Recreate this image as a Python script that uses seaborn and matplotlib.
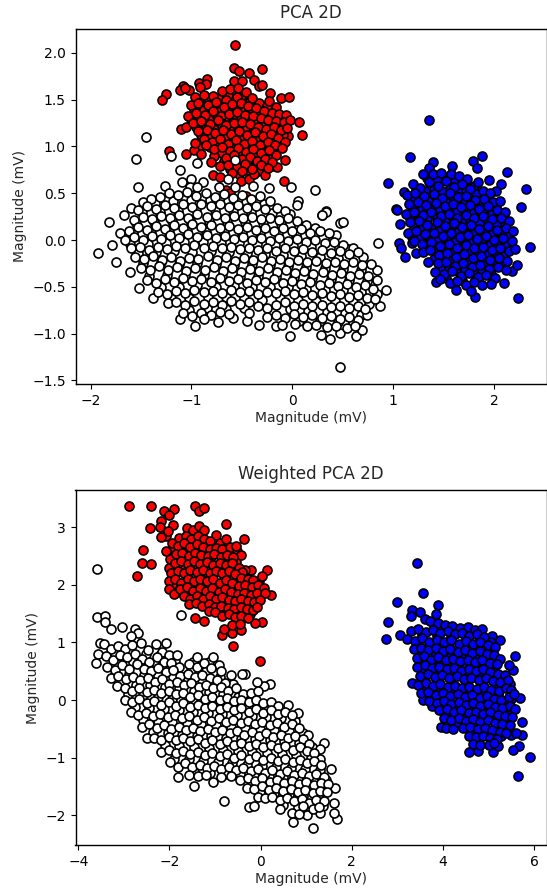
import seaborn as sns
import matplotlib.pyplot as plt
import pandas as pd

# points, one list per cluster
pcaRed = [(-0.57,2.08),(-0.58,1.84),(-0.53,1.81),(-0.30,1.83),(-0.43,1.78),(-0.38,1.71),(-0.33,1.65),(-0.30,1.66),(-0.58,1.70),(-0.50,1.70),
(-0.85,1.72),(-0.92,1.68),(-0.86,1.67),(-1.08,1.65),(-1.11,1.60),(-1.02,1.60),(-1.06,1.62),(-1.25,1.56),(-1.29,1.50),(-0.91,1.63),
(-0.11,1.52),(-0.03,1.53),(-0.22,1.57),(-0.23,1.49),(0.07,1.26),(0.10,1.12),(-0.04,1.11),(-0.09,1.12),(-1.10,1.19),(-1.05,1.21),
(-1.22,0.95),(-1.05,0.92),(-0.97,0.96),(-0.90,0.92),(-0.78,0.90),(-0.81,0.83),(-0.72,0.79),(-0.79,0.69),(-0.72,0.67),(-0.51,0.63),
(-0.43,0.65),(-0.38,0.70),(-0.27,0.69),(-0.08,0.63),(-0.66,0.53),(-0.62,0.50),(-0.46,0.47),(-0.07,0.85),(-0.16,0.91),(-0.15,0.78),
(-0.96,1.53),(-0.88,1.55),(-0.79,1.54),(-0.70,1.59),(-0.62,1.61),(-0.54,1.62),(-0.46,1.58),(-0.40,1.52),(-0.55,1.53),(-0.66,1.50),
(-1.00,1.44),(-0.93,1.46),(-0.84,1.44),(-0.76,1.47),(-0.68,1.42),(-0.60,1.45),(-0.51,1.46),(-0.44,1.43),(-0.36,1.41),(-0.28,1.38),
(-0.20,1.36),(-0.13,1.35),(-0.06,1.34),(-1.03,1.33),(-0.95,1.36),(-0.87,1.34),(-0.79,1.38),(-0.71,1.33),(-0.63,1.35),(-0.55,1.37),
(-0.47,1.34),(-0.39,1.33),(-0.31,1.30),(-0.24,1.28),(-0.16,1.27),(-0.08,1.26),(-0.02,1.28),(-0.98,1.25),(-0.90,1.27),(-0.82,1.24),
(-0.74,1.28),(-0.66,1.23),(-0.58,1.25),(-0.50,1.26),(-0.42,1.24),(-0.34,1.21),(-0.26,1.19),(-0.18,1.21),(-0.11,1.18),(-0.05,1.20),
(-0.93,1.16),(-0.85,1.18),(-0.77,1.14),(-0.69,1.17),(-0.61,1.13),(-0.53,1.16),(-0.45,1.12),(-0.37,1.15),(-0.29,1.11),(-0.21,1.13),
(-0.14,1.09),(-0.07,1.05),(-0.88,1.08),(-0.80,1.05),(-0.72,1.08),(-0.64,1.03),(-0.56,1.07),(-0.48,1.03),(-0.40,1.06),(-0.32,1.02),
(-0.24,1.05),(-0.17,1.01),(-0.10,0.98),(-0.96,1.04),(-0.86,1.02),(-0.78,0.97),(-0.70,0.99),(-0.62,0.95),(-0.54,0.98),(-0.46,0.94),
(-0.39,0.97),(-0.31,0.93),(-0.23,0.96),(-0.66,0.88),(-0.58,0.91),(-0.50,0.87),(-0.42,0.89),(-0.35,0.84),(-0.27,0.87),(-0.20,0.83),
(-0.64,0.80),(-0.55,0.78),(-0.47,0.81),(-0.40,0.76),(-0.31,0.80),(-0.24,0.77),(-0.60,0.72),(-0.50,0.74)]

pcaRedUnder = [(-0.92,1.49),(-0.83,1.50),(-0.74,1.52),(-0.64,1.55),(-0.50,1.55),(-0.42,1.48),(-0.33,1.46),(-0.25,1.43),(-0.16,1.42),(-0.97,1.40),(-0.88,1.39),(-0.80,1.42),(-0.72,1.38),(-0.64,1.40),(-0.56,1.41),(-0.47,1.39),(-0.40,1.37),(-0.32,1.35),(-0.24,1.33),(-0.12,1.31),
(-1.00,1.29),(-0.92,1.31),(-0.83,1.29),(-0.75,1.32),(-0.67,1.28),(-0.59,1.30),(-0.51,1.31),(-0.43,1.29),(-0.35,1.26),(-0.27,1.24),(-0.20,1.24),(-0.12,1.22),(-0.95,1.21),(-0.86,1.22),(-0.78,1.19),(-0.70,1.22),(-0.62,1.19),(-0.54,1.21),(-0.46,1.19),(-0.38,1.18),(-0.30,1.16),(-0.22,1.17),(-0.15,1.14),(-0.08,1.15),
(-0.90,1.12),(-0.81,1.11),(-0.73,1.11),(-0.65,1.10),(-0.57,1.11),(-0.49,1.08),(-0.41,1.10),(-0.33,1.07),(-0.25,1.09),(-0.18,1.06),(-0.11,1.03),(-0.92,0.99),(-0.82,0.99),(-0.74,1.03),(-0.66,0.99),(-0.58,1.02),(-0.50,0.99),(-0.43,1.01),(-0.35,0.98),(-0.27,1.00),(-0.19,0.97),
(-0.70,0.93),(-0.62,0.90),(-0.54,0.93),(-0.46,0.90),(-0.38,0.92),(-0.30,0.88),(-0.23,0.90),(-0.68,0.84),(-0.60,0.85),(-0.52,0.82),(-0.44,0.85),(-0.36,0.79),(-0.28,0.83),(-0.20,0.79),(-0.62,0.76),(-0.53,0.70),(-0.44,0.75),(-0.34,0.74)]

pcaBlue = [(1.36,1.28),(1.17,0.89),(1.88,0.90),(1.39,0.83),(1.79,0.84),(1.83,0.77),(2.13,0.73),(0.95,0.61),(2.32,0.54),(2.27,0.35),
(1.03,0.33),(1.11,0.51),(2.07,0.60),(1.58,0.79),(1.36,0.77),(1.04,0.32),(1.07,0.17),(1.06,-0.03),(1.08,-0.09),(1.12,-0.18),
(1.19,-0.03),(1.23,-0.14),(2.36,-0.07),(2.24,-0.62),(2.10,-0.46),(1.81,-0.61),(1.42,-0.45),(2.18,-0.33),(2.23,-0.27),
(1.30,0.70),(1.39,0.71),(1.47,0.72),(1.57,0.70),(1.65,0.68),(1.73,0.65),(1.84,0.62),(1.95,0.64),(2.02,0.52),
(1.20,0.60),(1.27,0.56),(1.36,0.62),(1.44,0.58),(1.52,0.63),(1.60,0.57),(1.68,0.60),(1.76,0.54),(1.89,0.52),(1.96,0.50),
(1.14,0.48),(1.22,0.50),(1.31,0.47),(1.40,0.49),(1.48,0.45),(1.56,0.50),(1.64,0.46),(1.72,0.47),(1.81,0.43),(1.90,0.44),(1.99,0.41),(2.06,0.42),
(1.16,0.39),(1.25,0.41),(1.33,0.37),(1.42,0.40),(1.51,0.36),(1.59,0.39),(1.67,0.35),(1.76,0.37),(1.85,0.33),(1.94,0.36),(2.03,0.32),(2.11,0.30),
(1.13,0.28),(1.21,0.30),(1.30,0.27),(1.38,0.30),(1.47,0.26),(1.55,0.28),(1.63,0.24),(1.72,0.27),(1.80,0.23),(1.89,0.26),(1.98,0.22),(2.07,0.23),(2.15,0.20),
(1.17,0.19),(1.26,0.20),(1.34,0.16),(1.43,0.19),(1.51,0.15),(1.60,0.18),(1.68,0.14),(1.77,0.16),(1.85,0.12),(1.94,0.15),(2.03,0.11),(2.12,0.13),(2.19,0.10),
(1.15,0.08),(1.23,0.10),(1.32,0.06),(1.40,0.08),(1.49,0.04),(1.57,0.07),(1.66,0.03),(1.74,0.05),(1.83,0.01),(1.92,0.04),(2.00,0.00),(2.09,0.02),(2.18,-0.01),
(1.21,-0.01),(1.29,-0.04),(1.38,-0.02),(1.46,-0.06),(1.55,-0.04),(1.63,-0.08),(1.72,-0.05),(1.80,-0.09),(1.89,-0.07),(1.98,-0.11),(2.06,-0.09),(2.15,-0.12),(2.21,-0.10),
(1.30,-0.13),(1.37,-0.11),(1.45,-0.16),(1.53,-0.14),(1.62,-0.18),(1.70,-0.15),(1.79,-0.19),(1.87,-0.17),(1.96,-0.21),(2.05,-0.19),(2.13,-0.22),
(1.35,-0.23),(1.44,-0.25),(1.52,-0.23),(1.61,-0.28),(1.69,-0.25),(1.78,-0.29),(1.86,-0.27),(1.95,-0.31),(2.04,-0.29),(2.12,-0.32),
(1.41,-0.34),(1.50,-0.36),(1.58,-0.33),(1.67,-0.38),(1.75,-0.35),(1.84,-0.39),(1.92,-0.37),(2.01,-0.41),
(1.46,-0.42),(1.56,-0.46),(1.63,-0.44),(1.72,-0.48),(1.80,-0.45),(1.88,-0.48),(1.97,-0.47),(1.62,-0.53),(1.77,-0.54)]

pcaBlueUnder = [(1.34,0.66),(1.43,0.65),(1.53,0.67),(1.61,0.64),(1.70,0.62),(1.80,0.58),(1.23,0.55),(1.32,0.52),(1.40,0.54),(1.48,0.52),(1.56,0.55),(1.64,0.52),(1.72,0.52),(1.82,0.49),(1.93,0.47),(1.18,0.44),(1.27,0.44),(1.35,0.42),(1.44,0.44),(1.52,0.41),(1.60,0.44),(1.68,0.41),(1.77,0.42),(1.86,0.39),(1.95,0.39),(2.02,0.37),
(1.19,0.34),(1.29,0.34),(1.37,0.33),(1.46,0.33),(1.55,0.32),(1.63,0.31),(1.71,0.31),(1.80,0.30),(1.89,0.30),(1.98,0.28),(2.07,0.28),(1.17,0.24),(1.26,0.25),(1.34,0.22),(1.43,0.24),(1.51,0.21),(1.59,0.23),(1.68,0.20),(1.76,0.21),(1.85,0.18),(1.94,0.20),(2.03,0.17),(2.11,0.18),
(1.21,0.14),(1.30,0.13),(1.38,0.13),(1.47,0.11),(1.55,0.12),(1.64,0.09),(1.72,0.10),(1.81,0.07),(1.90,0.09),(1.98,0.06),(2.07,0.07),(2.15,0.05),(1.19,0.03),(1.27,0.03),(1.36,0.03),(1.44,0.01),(1.53,0.01),(1.61,-0.02),(1.70,0.00),(1.78,-0.03),(1.87,-0.02),(1.96,-0.05),(2.04,-0.04),(2.13,-0.06),
(1.34,-0.08),(1.42,-0.10),(1.50,-0.09),(1.59,-0.13),(1.67,-0.10),(1.76,-0.14),(1.84,-0.12),(1.93,-0.16),(2.02,-0.14),(2.10,-0.17),(1.40,-0.20),(1.48,-0.20),(1.57,-0.21),(1.65,-0.22),(1.74,-0.24),(1.82,-0.23),(1.91,-0.26),(2.00,-0.25),(2.08,-0.27),(1.46,-0.30),(1.55,-0.29),(1.63,-0.33),(1.71,-0.31),(1.80,-0.34),(1.88,-0.32),(1.97,-0.36),(1.52,-0.41),(1.68,-0.43),(1.84,-0.44)]

pcaWhite = [(-1.45,1.10),(-1.55,0.87),(-1.20,0.90),(-0.94,0.82),(-1.11,0.75),(-0.57,0.86),(-1.53,0.57),(-1.26,0.58),(-1.09,0.62),(-1.00,0.65),
(-0.89,0.62),(-1.01,0.57),(-0.94,0.57),(-0.73,0.57),(-0.64,0.65),(-0.57,0.57),(-0.39,0.58),(-0.23,0.56),(-0.01,0.57),(0.23,0.53),
(0.06,0.42),(0.05,0.37),(0.33,0.31),(0.29,0.27),(-1.82,0.19),(-1.93,-0.14),(-1.79,-0.05),(-1.75,-0.24),(-1.71,0.08),(-1.67,0.27),
(-1.60,0.34),(-1.52,-0.51),(-1.61,-0.34),(-1.38,-0.62),(-1.23,-0.67),(-1.11,-0.84),(-0.96,-0.92),(-0.74,-0.88),(-0.59,-0.83),(-0.45,-0.87),
(-0.33,-0.91),(-0.16,-0.92),(-0.02,-1.03),(0.28,-1.01),(0.37,-1.06),(0.47,-0.99),(0.63,-1.03),(0.47,-1.36),(0.69,-0.96),(0.74,-0.80),
(0.87,-0.71),(0.93,-0.53),(0.84,-0.32),(0.84,-0.43),(0.78,-0.26),(0.70,-0.18),(0.85,-0.03),(0.60,-0.08),(0.43,0.05),(0.33,0.30),
(0.29,0.27),(0.47,0.18),(0.50,0.19),
(-1.48,0.41),(-1.40,0.44),(-1.31,0.46),(-1.22,0.50),(-1.13,0.48),(-1.04,0.51),(-0.95,0.47),(-0.86,0.50),(-0.77,0.46),(-0.68,0.49),(-0.59,0.45),(-0.50,0.48),(-0.41,0.44),(-0.32,0.47),(-0.22,0.42),
(-1.53,0.32),(-1.44,0.36),(-1.35,0.33),(-1.26,0.37),(-1.17,0.34),(-1.08,0.38),(-0.99,0.35),(-0.90,0.39),(-0.81,0.36),(-0.72,0.38),(-0.63,0.35),(-0.54,0.37),(-0.45,0.34),(-0.36,0.36),(-0.27,0.33),(-0.15,0.34),(-0.07,0.31),
(-1.57,0.21),(-1.48,0.25),(-1.39,0.22),(-1.30,0.26),(-1.21,0.23),(-1.12,0.27),(-1.03,0.24),(-0.94,0.28),(-0.85,0.25),(-0.76,0.27),(-0.67,0.24),(-0.58,0.26),(-0.49,0.23),(-0.40,0.25),(-0.31,0.22),(-0.22,0.24),(-0.13,0.21),(-0.04,0.24),(0.05,0.20),(0.14,0.16),
(-1.62,0.10),(-1.53,0.14),(-1.44,0.11),(-1.35,0.15),(-1.26,0.12),(-1.17,0.16),(-1.08,0.13),(-0.99,0.17),(-0.90,0.14),(-0.81,0.16),(-0.72,0.13),(-0.63,0.15),(-0.54,0.12),(-0.45,0.14),(-0.36,0.11),(-0.27,0.13),(-0.18,0.10),(-0.09,0.13),(0.00,0.10),(0.09,0.12),(0.18,0.08),(0.27,0.10),(0.36,0.07),
(-1.66,0.00),(-1.57,0.03),(-1.48,0.00),(-1.39,0.04),(-1.30,0.01),(-1.21,0.05),(-1.12,0.02),(-1.03,0.06),(-0.94,0.03),(-0.85,0.05),(-0.76,0.02),(-0.67,0.04),(-0.58,0.01),(-0.49,0.03),(-0.40,0.00),(-0.31,0.02),(-0.22,-0.01),(-0.13,0.02),(-0.04,-0.01),(0.05,0.01),(0.14,-0.02),(0.23,0.00),(0.32,-0.03),(0.41,-0.02),(0.50,-0.05),
(-1.60,-0.09),(-1.51,-0.07),(-1.42,-0.11),(-1.33,-0.07),(-1.24,-0.10),(-1.15,-0.06),(-1.06,-0.09),(-0.97,-0.05),(-0.88,-0.08),(-0.79,-0.06),(-0.70,-0.09),(-0.61,-0.07),(-0.52,-0.10),(-0.43,-0.08),(-0.34,-0.11),(-0.25,-0.09),(-0.16,-0.12),(-0.07,-0.09),(0.02,-0.12),(0.11,-0.10),(0.20,-0.13),(0.29,-0.11),(0.38,-0.14),(0.47,-0.12),(0.56,-0.15),(0.65,-0.13),
(-1.56,-0.18),(-1.47,-0.20),(-1.38,-0.17),(-1.29,-0.21),(-1.20,-0.18),(-1.11,-0.22),(-1.02,-0.19),(-0.93,-0.20),(-0.84,-0.17),(-0.75,-0.21),(-0.66,-0.18),(-0.57,-0.22),(-0.48,-0.19),(-0.39,-0.21),(-0.30,-0.18),(-0.21,-0.22),(-0.12,-0.20),(-0.03,-0.23),(0.06,-0.21),(0.15,-0.24),(0.24,-0.22),(0.33,-0.25),(0.42,-0.23),(0.51,-0.26),(0.60,-0.24),(0.69,-0.27),
(-1.50,-0.30),(-1.41,-0.32),(-1.32,-0.28),(-1.23,-0.32),(-1.14,-0.29),(-1.05,-0.33),(-0.96,-0.30),(-0.87,-0.32),(-0.78,-0.29),(-0.69,-0.33),(-0.60,-0.30),(-0.51,-0.34),(-0.42,-0.31),(-0.33,-0.33),(-0.24,-0.30),(-0.15,-0.34),(-0.06,-0.32),(0.03,-0.35),(0.12,-0.33),(0.21,-0.36),(0.30,-0.34),(0.39,-0.37),(0.48,-0.35),(0.57,-0.38),(0.66,-0.36),(0.75,-0.38),
(-1.44,-0.43),(-1.35,-0.46),(-1.26,-0.42),(-1.17,-0.45),(-1.08,-0.41),(-0.99,-0.44),(-0.90,-0.42),(-0.81,-0.45),(-0.72,-0.41),(-0.63,-0.44),(-0.54,-0.42),(-0.45,-0.46),(-0.36,-0.43),(-0.27,-0.45),(-0.18,-0.42),(-0.09,-0.46),(0.00,-0.44),(0.09,-0.47),(0.18,-0.45),(0.27,-0.48),(0.36,-0.46),(0.45,-0.49),(0.54,-0.47),(0.63,-0.50),(0.72,-0.48),(0.80,-0.52),
(-1.33,-0.55),(-1.24,-0.58),(-1.15,-0.54),(-1.06,-0.57),(-0.97,-0.53),(-0.88,-0.56),(-0.79,-0.54),(-0.70,-0.57),(-0.61,-0.53),(-0.52,-0.56),(-0.43,-0.54),(-0.34,-0.58),(-0.25,-0.55),(-0.16,-0.57),(-0.07,-0.54),(0.02,-0.58),(0.11,-0.56),(0.20,-0.59),(0.29,-0.57),(0.38,-0.60),(0.47,-0.58),(0.56,-0.61),(0.65,-0.59),(0.74,-0.62),(0.82,-0.63),
(-1.15,-0.66),(-1.06,-0.69),(-0.97,-0.65),(-0.88,-0.68),(-0.79,-0.66),(-0.70,-0.69),(-0.61,-0.65),(-0.52,-0.68),(-0.43,-0.66),(-0.34,-0.70),(-0.25,-0.73),(-0.16,-0.69),(-0.07,-0.66),(0.02,-0.70),(0.11,-0.68),(0.20,-0.71),(0.29,-0.69),(0.38,-0.72),(0.47,-0.70),(0.56,-0.73),(0.65,-0.71),(0.72,-0.74),
(-1.08,-0.78),(-0.99,-0.81),(-0.90,-0.78),(-0.81,-0.80),(-0.72,-0.77),(-0.63,-0.79),(-0.43,-0.78),(-0.25,-0.82),(-0.16,-0.80),(-0.07,-0.83),(0.02,-0.79),(0.11,-0.82),(0.20,-0.80),(0.29,-0.83),(0.38,-0.81),(0.47,-0.84),(0.56,-0.82),(0.65,-0.85),
(-0.88,-0.84),(-0.10,-0.91),(0.03,-0.90),(0.15,-0.92),(0.24,-0.91),(0.34,-0.93),(0.43,-0.92),(0.54,-0.94),(0.62,-0.92)]

pcaWhiteUnder = [(-1.36,0.40),(-1.18,0.42),(-1.00,0.43),(-0.82,0.43),(-0.64,0.42),(-0.46,0.41),(-0.28,0.39),(-1.49,0.30),(-1.31,0.30),(-1.13,0.31),(-0.95,0.33),(-0.77,0.32),(-0.59,0.31),(-0.41,0.30),(-0.20,0.29),(-0.02,0.28),
(-1.55,0.18),(-1.37,0.19),(-1.19,0.20),(-1.01,0.21),(-0.83,0.20),(-0.65,0.19),(-0.47,0.19),(-0.29,0.18),(-0.11,0.17),(0.07,0.15),(0.23,0.13),(-1.58,0.07),(-1.40,0.07),(-1.22,0.09),(-1.04,0.10),(-0.86,0.09),(-0.68,0.09),(-0.50,0.08),(-0.32,0.07),(-0.14,0.07),(0.04,0.05),(0.22,0.04),(0.40,0.01),
(-1.61,-0.04),(-1.43,-0.04),(-1.25,-0.03),(-1.07,-0.02),(-0.89,-0.02),(-0.71,-0.03),(-0.53,-0.03),(-0.35,-0.04),(-0.17,-0.05),(0.01,-0.06),(0.19,-0.07),(0.37,-0.08),(0.55,-0.10),(-1.53,-0.14),(-1.35,-0.13),(-1.17,-0.12),(-0.99,-0.13),(-0.81,-0.12),(-0.63,-0.13),(-0.45,-0.14),(-0.27,-0.15),(-0.09,-0.16),(0.09,-0.17),(0.27,-0.18),(0.45,-0.19),(0.63,-0.20),
(-1.48,-0.25),(-1.30,-0.24),(-1.12,-0.26),(-0.94,-0.25),(-0.76,-0.26),(-0.58,-0.27),(-0.40,-0.26),(-0.22,-0.27),(-0.04,-0.28),(0.14,-0.29),(0.32,-0.30),(0.50,-0.31),(0.68,-0.32),(-1.42,-0.38),(-1.24,-0.37),(-1.06,-0.38),(-0.88,-0.37),(-0.70,-0.38),(-0.52,-0.39),(-0.34,-0.38),(-0.16,-0.39),(0.02,-0.40),(0.20,-0.41),(0.38,-0.42),(0.56,-0.43),(0.74,-0.44),
(-1.30,-0.50),(-1.12,-0.50),(-0.94,-0.48),(-0.76,-0.50),(-0.58,-0.49),(-0.40,-0.50),(-0.22,-0.50),(-0.04,-0.50),(0.14,-0.52),(0.32,-0.53),(0.50,-0.53),(0.68,-0.55),(0.84,-0.58),(-1.20,-0.62),(-1.02,-0.62),(-0.84,-0.61),(-0.66,-0.61),(-0.48,-0.62),(-0.30,-0.64),(-0.12,-0.62),(0.06,-0.64),(0.24,-0.65),(0.42,-0.65),(0.60,-0.66),(0.76,-0.68),
(-1.02,-0.75),(-0.85,-0.73),(-0.66,-0.74),(-0.48,-0.73),(-0.20,-0.76),(-0.02,-0.74),(0.16,-0.76),(0.34,-0.77),(0.52,-0.78),(0.68,-0.80),(0.07,-0.87),(0.27,-0.87),(0.45,-0.88),(0.60,-0.88)]

wpcaRed = [(-2.89,3.36),(-2.41,3.37),(-1.90,3.31),(-2.11,3.28),(-2.01,3.21),(-1.45,3.36),(-1.35,3.29),(-1.24,3.33),(-2.19,3.11),(-1.92,3.04),
(-2.43,2.99),(-0.76,3.06),(-0.98,2.86),(-0.37,2.79),(-0.76,2.79),(-2.58,2.60),(-2.60,2.38),(-2.40,2.36),(-2.71,2.16),(0.13,2.25),
(0.04,2.15),(-0.22,2.26),(-0.34,2.26),(0.23,1.83),(0.03,1.35),(-0.12,1.34),(-1.45,1.42),(-1.25,1.38),(-0.85,1.13),(-0.63,1.16),
(-0.60,0.93),(-0.01,0.68),(-0.43,1.21),(-0.80,1.24),(-2.08,2.84),(-2.08,2.59),(-2.18,2.83),(-2.20,3.00),(-2.04,2.94),
(-1.62,2.98),(-1.48,2.95),(-1.35,3.02),(-1.24,2.95),(-1.78,2.82),(-1.64,2.85),(-1.52,2.80),(-1.38,2.84),(-1.24,2.80),(-1.10,2.76),
(-1.95,2.72),(-1.82,2.68),(-1.68,2.72),(-1.54,2.66),(-1.40,2.70),(-1.26,2.66),(-1.12,2.62),(-0.98,2.64),(-0.84,2.62),(-0.68,2.66),(-0.54,2.68),(-0.44,2.52),
(-1.98,2.44),(-1.86,2.54),(-1.72,2.56),(-1.58,2.50),(-1.44,2.56),(-1.30,2.52),(-1.16,2.50),(-1.02,2.54),(-0.88,2.48),(-0.74,2.52),(-0.60,2.48),
(-2.00,2.30),(-1.88,2.38),(-1.74,2.42),(-1.60,2.36),(-1.46,2.42),(-1.32,2.36),(-1.18,2.40),(-1.04,2.34),(-0.90,2.38),(-0.76,2.34),(-0.62,2.38),(-0.48,2.30),(-0.40,2.22),
(-1.96,2.20),(-1.82,2.24),(-1.68,2.20),(-1.54,2.26),(-1.40,2.22),(-1.26,2.26),(-1.12,2.20),(-0.98,2.24),(-0.84,2.20),(-0.70,2.24),(-0.56,2.18),(-0.42,2.12),(-0.28,2.10),(-0.16,2.08),
(-2.02,2.06),(-1.88,2.10),(-1.74,2.04),(-1.60,2.10),(-1.46,2.06),(-1.32,2.10),(-1.18,2.06),(-1.04,2.10),(-0.90,2.04),(-0.76,2.08),(-0.62,2.04),(-0.48,1.98),(-0.34,2.00),(-0.20,1.96),(-0.06,2.00),(0.08,1.94),
(-2.02,1.92),(-1.90,1.84),(-1.76,1.92),(-1.62,1.96),(-1.48,1.90),(-1.34,1.94),(-1.20,1.90),(-1.06,1.94),(-0.92,1.88),(-0.78,1.92),(-0.64,1.88),(-0.50,1.84),(-0.36,1.86),(-0.22,1.82),(-0.08,1.86),(0.10,1.86),
(-1.68,1.80),(-1.54,1.76),(-1.40,1.80),(-1.26,1.76),(-1.12,1.80),(-0.98,1.76),(-0.84,1.78),(-0.70,1.74),(-0.56,1.72),(-0.42,1.76),(-0.28,1.72),(-0.14,1.70),(-0.02,1.74),
(-1.56,1.66),(-1.42,1.68),(-1.28,1.64),(-1.14,1.66),(-1.00,1.62),(-0.86,1.64),(-0.72,1.60),(-0.58,1.58),(-0.44,1.62),(-0.30,1.58),(-0.16,1.56),(-0.08,1.62),
(-1.14,1.54),(-1.00,1.52),(-0.84,1.46),(-0.70,1.50),(-0.56,1.44),(-0.42,1.46),(-0.28,1.42),(-0.62,1.30),(-0.46,1.32)]

wpcaRedUnder = [(-1.56,2.90),(-1.30,2.88),(-1.72,2.76),(-1.46,2.75),(-1.18,2.72),(-0.90,2.72),(-1.90,2.62),(-1.62,2.62),(-1.34,2.60),(-1.06,2.58),(-0.78,2.58),(-0.52,2.58),(-1.92,2.46),(-1.66,2.47),(-1.38,2.46),(-1.10,2.45),(-0.82,2.43),(-0.54,2.40),
(-1.92,2.32),(-1.66,2.30),(-1.38,2.30),(-1.10,2.30),(-0.82,2.30),(-0.56,2.28),(-1.90,2.16),(-1.62,2.16),(-1.34,2.16),(-1.06,2.16),(-0.78,2.14),(-0.50,2.08),(-0.24,2.04),(-0.04,2.06),(-1.94,2.00),(-1.66,2.02),(-1.38,2.00),(-1.10,2.02),(-0.84,1.98),(-0.56,1.94),(-0.28,1.92),(-0.12,1.93),
(-1.84,1.88),(-1.56,1.84),(-1.28,1.84),(-1.00,1.84),(-0.72,1.82),(-0.44,1.80),(-0.16,1.78),(-0.02,1.85),(-1.46,1.72),(-1.20,1.70),(-0.92,1.70),(-0.64,1.66),(-0.36,1.66),(-0.10,1.70),(-1.06,1.56),(-0.78,1.54),(-0.50,1.52),(-0.24,1.50),(-0.92,1.58)]

wpcaBlue = [(3.44,2.38),(3.57,1.85),(3.00,1.71),(2.79,1.36),(2.75,1.06),(3.89,1.65),(3.33,1.56),(3.50,1.53),(3.05,1.13),(5.58,0.76),
(5.91,-0.99),(5.64,-1.32),(5.74,-0.60),(5.67,-0.79),(5.53,-0.86),(5.74,-0.39),(5.09,-0.91),(4.76,-0.89),(4.58,-0.90),(3.95,-0.46),
(3.76,-0.10),(3.55,0.00),(3.33,0.30),(5.69,0.03),(5.53,0.52),(5.45,0.61),(5.25,1.05),(5.07,1.12),(3.85,1.50),(3.30,1.45),(3.60,1.40),
(4.06,-0.48),(4.22,-0.50),(5.50,-0.60),(5.60,-0.58),(5.20,-0.80),
(3.72,1.38),(3.88,1.33),(4.04,1.30),(4.20,1.28),(4.38,1.25),(4.55,1.27),(4.70,1.22),(4.85,1.24),
(3.30,1.20),(3.46,1.24),(3.62,1.18),(3.78,1.22),(3.94,1.17),(4.10,1.20),(4.26,1.14),(4.42,1.17),(4.58,1.12),(4.74,1.15),(4.90,1.10),(5.05,1.00),
(3.22,1.06),(3.38,1.02),(3.54,1.07),(3.70,1.01),(3.86,1.05),(4.02,1.00),(4.18,1.04),(4.34,0.98),(4.50,1.02),(4.66,0.97),(4.82,1.00),(4.98,0.95),(5.14,0.92),
(3.36,0.88),(3.52,0.91),(3.68,0.86),(3.84,0.90),(4.00,0.85),(4.16,0.88),(4.32,0.83),(4.48,0.86),(4.64,0.82),(4.80,0.85),(4.96,0.80),(5.12,0.78),(5.24,0.72),
(3.42,0.73),(3.58,0.76),(3.74,0.70),(3.90,0.74),(4.06,0.69),(4.22,0.72),(4.38,0.67),(4.54,0.70),(4.70,0.66),(4.86,0.69),(5.02,0.64),(5.18,0.62),
(3.44,0.58),(3.60,0.60),(3.76,0.55),(3.92,0.58),(4.08,0.53),(4.24,0.56),(4.40,0.51),(4.56,0.54),(4.72,0.50),(4.88,0.53),(5.04,0.48),(5.20,0.46),(5.36,0.44),
(3.50,0.42),(3.66,0.45),(3.82,0.40),(3.98,0.43),(4.14,0.38),(4.30,0.41),(4.46,0.36),(4.62,0.39),(4.78,0.35),(4.94,0.38),(5.10,0.33),(5.26,0.31),(5.42,0.35),
(3.46,0.26),(3.62,0.29),(3.78,0.24),(3.94,0.27),(4.10,0.22),(4.26,0.25),(4.42,0.20),(4.58,0.23),(4.74,0.19),(4.90,0.22),(5.06,0.17),(5.22,0.15),(5.38,0.20),(5.50,0.17),
(3.52,0.12),(3.68,0.14),(3.84,0.09),(4.00,0.12),(4.16,0.07),(4.32,0.10),(4.48,0.05),(4.64,0.08),(4.80,0.04),(4.96,0.07),(5.12,0.02),(5.28,0.00),(5.44,0.05),(5.56,0.10),
(3.70,-0.02),(3.86,-0.05),(4.02,-0.02),(4.18,-0.07),(4.34,-0.04),(4.50,-0.09),(4.66,-0.06),(4.82,-0.10),(4.98,-0.07),(5.14,-0.12),(5.30,-0.14),(5.46,-0.10),(5.58,-0.16),
(3.92,-0.18),(4.08,-0.16),(4.24,-0.21),(4.40,-0.18),(4.56,-0.23),(4.72,-0.20),(4.88,-0.24),(5.04,-0.21),(5.20,-0.26),(5.36,-0.28),(5.52,-0.30),
(4.02,-0.31),(4.18,-0.34),(4.34,-0.32),(4.50,-0.36),(4.66,-0.33),(4.82,-0.38),(4.98,-0.35),(5.14,-0.40),(5.30,-0.42),(5.46,-0.44),
(4.44,-0.48),(4.60,-0.46),(4.76,-0.50),(4.92,-0.48),(5.08,-0.52),(5.24,-0.55),(5.38,-0.58),
(4.56,-0.62),(4.72,-0.64),(4.88,-0.62),(5.04,-0.66),(5.18,-0.68),(4.66,-0.76),(4.82,-0.78),(5.00,-0.78),(5.12,-0.74)]

wpcaBlueUnder = [(3.80,1.30),(4.12,1.26),(4.46,1.22),(4.78,1.18),(3.54,1.13),(3.86,1.12),(4.18,1.10),(4.50,1.08),(4.82,1.06),(3.46,0.96),(3.78,0.97),(4.10,0.94),(4.42,0.92),(4.74,0.91),(5.06,0.86),(3.50,0.81),(3.82,0.81),(4.14,0.79),(4.46,0.77),(4.78,0.76),(5.10,0.70),
(3.52,0.66),(3.84,0.65),(4.16,0.62),(4.48,0.62),(4.80,0.60),(5.12,0.56),(3.58,0.50),(3.90,0.50),(4.22,0.48),(4.54,0.46),(4.86,0.44),(5.18,0.40),(3.56,0.35),(3.88,0.34),(4.20,0.32),(4.52,0.30),(4.84,0.28),(5.16,0.24),(5.46,0.28),
(3.60,0.20),(3.92,0.18),(4.24,0.16),(4.56,0.14),(4.88,0.12),(5.20,0.08),(5.50,0.02),(3.78,0.06),(4.10,0.03),(4.42,0.00),(4.74,-0.02),(5.06,-0.04),(5.38,-0.06),(3.96,-0.10),(4.28,-0.13),(4.60,-0.15),(4.92,-0.16),(5.24,-0.20),(5.50,-0.22),
(4.12,-0.25),(4.44,-0.27),(4.76,-0.29),(5.08,-0.31),(5.40,-0.36),(4.30,-0.42),(4.60,-0.40),(4.90,-0.43),(5.22,-0.47),(4.66,-0.55),(4.98,-0.57),(5.28,-0.62),(4.76,-0.70),(5.08,-0.72)]

wpcaWhite = [(-3.58,2.27),(-3.58,1.44),(-3.41,1.46),(-3.41,1.36),(-3.28,1.24),(-3.03,1.27),(-2.76,1.23),(-2.68,1.17),(-2.84,1.12),(-1.75,1.47),
(-2.08,0.99),(1.15,-2.23),(0.72,-2.11),(1.67,-2.07),(1.61,-1.96),(1.60,-1.79),(1.64,-1.52),(1.54,-1.20),(1.38,-0.75),(1.31,-0.85),
(1.04,-0.61),(0.81,-0.23),(0.59,-0.08),(0.20,0.28),(0.07,0.25),(-0.08,0.31),(-0.34,0.45),(-0.40,0.45),(-0.61,0.28),(-0.91,0.61),
(-0.80,-1.75),(-1.46,-1.50),(-1.05,-1.42),(-1.82,-1.34),(-0.25,-1.85),(-0.14,-1.84),(0.42,-1.89),(1.02,-2.00),(1.31,-1.96),(-2.49,-0.66),(-3.60,0.64),
(-3.52,0.99),(-3.44,0.98),(-3.28,0.88),(-3.12,0.94),(-2.98,0.88),(-2.82,0.96),(-2.62,0.99),(-2.46,0.86),(-2.30,0.97),(-2.16,0.84),(-2.00,0.78),(-1.84,0.78),(-1.40,0.75),(-1.04,0.74),
(-3.56,0.80),(-3.40,0.76),(-3.24,0.70),(-3.08,0.78),(-2.92,0.74),(-2.76,0.80),(-2.60,0.72),(-2.44,0.66),(-2.28,0.74),(-2.12,0.66),(-1.96,0.64),(-1.78,0.58),(-1.58,0.62),(-1.40,0.58),(-1.24,0.64),(-1.08,0.56),(-0.88,0.50),(-0.64,0.44),
(-3.36,0.58),(-3.20,0.52),(-3.04,0.60),(-2.88,0.54),(-2.72,0.62),(-2.56,0.54),(-2.40,0.50),(-2.24,0.56),(-2.08,0.48),(-1.92,0.52),(-1.76,0.42),(-1.60,0.46),(-1.44,0.40),(-1.28,0.44),(-1.12,0.38),(-0.96,0.34),(-0.78,0.30),
(-3.28,0.38),(-3.12,0.42),(-2.96,0.36),(-2.80,0.40),(-2.64,0.34),(-2.48,0.38),(-2.32,0.32),(-2.16,0.36),(-2.00,0.28),(-1.84,0.32),(-1.68,0.26),(-1.52,0.30),(-1.36,0.22),(-1.20,0.26),(-1.04,0.20),(-0.88,0.22),(-0.72,0.16),(-0.54,0.20),(-0.38,0.10),(-0.22,0.12),(-0.06,0.16),
(-3.14,0.24),(-2.98,0.20),(-2.82,0.16),(-2.66,0.20),(-2.50,0.14),(-2.34,0.18),(-2.18,0.12),(-2.02,0.16),(-1.86,0.10),(-1.70,0.12),(-1.54,0.06),(-1.38,0.08),(-1.22,0.02),(-1.06,0.06),(-0.90,0.00),(-0.74,0.04),(-0.58,-0.02),(-0.42,0.00),(-0.26,-0.04),(-0.10,0.00),(0.06,-0.06),(0.22,-0.04),(0.38,-0.10),
(-2.98,0.00),(-2.82,-0.04),(-2.66,0.02),(-2.50,-0.06),(-2.34,-0.02),(-2.18,-0.08),(-2.02,-0.04),(-1.86,-0.10),(-1.70,-0.06),(-1.54,-0.12),(-1.38,-0.08),(-1.22,-0.14),(-1.06,-0.10),(-0.90,-0.16),(-0.74,-0.12),(-0.58,-0.18),(-0.42,-0.14),(-0.26,-0.20),(-0.10,-0.16),(0.06,-0.22),(0.22,-0.18),(0.38,-0.24),(0.54,-0.20),(0.68,-0.26),
(-2.84,-0.20),(-2.68,-0.26),(-2.52,-0.22),(-2.36,-0.28),(-2.20,-0.24),(-2.04,-0.30),(-1.88,-0.26),(-1.72,-0.32),(-1.56,-0.28),(-1.40,-0.34),(-1.24,-0.30),(-1.08,-0.36),(-0.92,-0.32),(-0.76,-0.38),(-0.60,-0.34),(-0.44,-0.40),(-0.28,-0.36),(-0.12,-0.42),(0.04,-0.38),(0.20,-0.44),(0.36,-0.40),(0.52,-0.46),(0.68,-0.42),(0.84,-0.48),
(-2.60,-0.46),(-2.44,-0.42),(-2.28,-0.48),(-2.12,-0.44),(-1.96,-0.50),(-1.80,-0.46),(-1.64,-0.52),(-1.48,-0.48),(-1.32,-0.54),(-1.16,-0.50),(-1.00,-0.56),(-0.84,-0.52),(-0.68,-0.58),(-0.52,-0.54),(-0.36,-0.60),(-0.20,-0.56),(-0.04,-0.62),(0.12,-0.58),(0.28,-0.64),(0.44,-0.60),(0.60,-0.66),(0.76,-0.62),(0.92,-0.68),(1.06,-0.76),
(-2.34,-0.66),(-2.18,-0.70),(-2.02,-0.64),(-1.86,-0.70),(-1.70,-0.66),(-1.54,-0.72),(-1.38,-0.68),(-1.22,-0.74),(-1.06,-0.70),(-0.90,-0.76),(-0.74,-0.72),(-0.58,-0.78),(-0.42,-0.74),(-0.26,-0.80),(-0.10,-0.76),(0.06,-0.82),(0.22,-0.78),(0.38,-0.84),(0.54,-0.80),(0.70,-0.86),(0.86,-0.82),(1.02,-0.88),(1.18,-0.92),
(-2.18,-0.90),(-2.02,-0.86),(-1.86,-0.92),(-1.70,-0.88),(-1.54,-0.94),(-1.38,-0.90),(-1.22,-0.96),(-1.06,-0.92),(-0.90,-0.98),(-0.74,-0.94),(-0.58,-1.00),(-0.42,-0.96),(-0.26,-1.02),(-0.10,-0.98),(0.06,-1.04),(0.22,-1.00),(0.38,-1.06),(0.54,-1.02),(0.70,-1.08),(0.86,-1.04),(1.02,-1.10),(1.18,-1.06),(1.32,-1.12),
(-1.98,-1.08),(-1.82,-1.16),(-1.66,-1.10),(-1.50,-1.16),(-1.34,-1.12),(-1.18,-1.18),(-1.02,-1.14),(-0.86,-1.20),(-0.70,-1.16),(-0.54,-1.22),(-0.38,-1.18),(-0.22,-1.24),(-0.06,-1.20),(0.10,-1.26),(0.26,-1.22),(0.42,-1.28),(0.58,-1.24),(0.74,-1.30),(0.90,-1.26),(1.06,-1.32),(1.22,-1.28),(1.38,-1.34),
(-1.58,-1.30),(-1.38,-1.32),(-1.20,-1.30),(-0.86,-1.34),(-0.66,-1.32),(-0.46,-1.38),(-0.28,-1.36),(-0.12,-1.40),(0.04,-1.36),(0.20,-1.42),(0.36,-1.38),(0.52,-1.44),(0.68,-1.40),(0.84,-1.46),(1.00,-1.42),(1.16,-1.48),(1.32,-1.44),(1.48,-1.46),
(-0.30,-1.52),(-0.14,-1.54),(0.02,-1.50),(0.18,-1.56),(0.34,-1.52),(0.50,-1.58),(0.66,-1.54),(0.82,-1.60),(0.98,-1.56),(1.14,-1.62),(1.30,-1.58),(1.46,-1.60),
(-0.06,-1.68),(0.10,-1.70),(0.26,-1.68),(0.42,-1.74),(0.58,-1.70),(0.74,-1.76),(0.90,-1.72),(1.06,-1.78),(1.22,-1.74),(1.38,-1.76),
(0.68,-1.96),(0.84,-1.98),(0.94,-1.84),(1.14,-1.90),(1.28,-1.86)]

wpcaWhiteUnder = [(-3.20,0.80),(-2.84,0.84),(-2.52,0.80),(-2.20,0.78),(-1.88,0.68),(-1.48,0.66),(-1.14,0.66),(-3.12,0.62),(-2.80,0.66),(-2.48,0.58),(-2.16,0.60),(-1.84,0.54),(-1.52,0.52),(-1.20,0.50),(-0.90,0.40),
(-3.20,0.46),(-2.88,0.46),(-2.56,0.44),(-2.24,0.42),(-1.92,0.40),(-1.60,0.36),(-1.28,0.34),(-0.96,0.26),(-0.64,0.22),(-3.06,0.30),(-2.74,0.26),(-2.42,0.26),(-2.10,0.22),(-1.78,0.20),(-1.46,0.16),(-1.14,0.14),(-0.82,0.10),(-0.50,0.06),(-0.18,0.06),
(-2.90,0.10),(-2.58,0.08),(-2.26,0.06),(-1.94,0.02),(-1.62,0.00),(-1.30,-0.02),(-0.98,-0.06),(-0.66,-0.08),(-0.34,-0.10),(-0.02,-0.10),(0.30,-0.14),(-2.76,-0.12),(-2.44,-0.14),(-2.12,-0.16),(-1.80,-0.18),(-1.48,-0.20),(-1.16,-0.22),(-0.84,-0.24),(-0.52,-0.26),(-0.20,-0.28),(0.12,-0.30),(0.44,-0.32),(0.76,-0.36),
(-2.58,-0.34),(-2.26,-0.36),(-1.94,-0.38),(-1.62,-0.40),(-1.30,-0.42),(-0.98,-0.44),(-0.66,-0.46),(-0.34,-0.48),(-0.02,-0.50),(0.30,-0.52),(0.62,-0.54),(0.94,-0.58),(-2.36,-0.56),(-2.04,-0.58),(-1.72,-0.60),(-1.40,-0.62),(-1.08,-0.62),(-0.76,-0.66),(-0.44,-0.68),(-0.12,-0.68),(0.20,-0.70),(0.52,-0.72),(0.84,-0.74),(1.12,-0.82),
(-2.10,-0.78),(-1.78,-0.80),(-1.46,-0.82),(-1.14,-0.84),(-0.82,-0.86),(-0.50,-0.88),(-0.18,-0.90),(0.14,-0.92),(0.46,-0.94),(0.78,-0.96),(1.10,-1.00),(1.30,-1.02),(-1.90,-1.02),(-1.58,-1.02),(-1.26,-1.06),(-0.94,-1.08),(-0.62,-1.10),(-0.30,-1.12),(0.02,-1.14),(0.34,-1.16),(0.66,-1.18),(0.98,-1.20),(1.30,-1.22),
(-1.46,-1.25),(-1.10,-1.26),(-0.78,-1.28),(-0.46,-1.28),(-0.14,-1.30),(0.18,-1.32),(0.50,-1.34),(0.82,-1.36),(1.14,-1.38),(1.44,-1.38),(-0.20,-1.46),(0.12,-1.48),(0.44,-1.50),(0.76,-1.50),(1.08,-1.52),(1.38,-1.54),(-0.02,-1.62),(0.30,-1.62),(0.62,-1.64),(0.94,-1.66),(1.26,-1.66),(0.50,-1.82),(0.82,-1.86),(1.06,-1.86),(1.36,-1.84)]

def drawClusters(ax, clusters):
    for points, colour in clusters:
        df = pd.DataFrame(points, columns=['x', 'y'])
        sns.scatterplot(data=df, x='x', y='y', color=colour, edgecolor='k', s=42, linewidth=1.2, ax=ax, legend=False)

sns.set_style('ticks')
fig = plt.figure(figsize=(5.47, 8.88), dpi=100)

ax1 = fig.add_axes([75.5/547, (888-384)/888, 1-75.5/547, 355/888])
drawClusters(ax1, [(pcaRedUnder, 'red'), (pcaRed, 'red'), (pcaBlueUnder, 'blue'), (pcaBlue, 'blue'), (pcaWhiteUnder, 'white'), (pcaWhite, 'white')])
ax1.set_xlim(-2.149, 2.525)
ax1.set_ylim(-1.538, 2.254)
ax1.set_title('PCA 2D', fontsize=12, pad=8)
ax1.set_xlabel('Magnitude (mV)', fontsize=10, labelpad=2)
ax1.set_ylabel('Magnitude (mV)', fontsize=10)

ax2 = fig.add_axes([75.5/547, (888-845)/888, 1-75.5/547, 355/888])
drawClusters(ax2, [(wpcaRedUnder, 'red'), (wpcaRed, 'red'), (wpcaBlueUnder, 'blue'), (wpcaBlue, 'blue'), (wpcaWhiteUnder, 'white'), (wpcaWhite, 'white')])
ax2.set_xlim(-4.06, 6.28)
ax2.set_ylim(-2.517, 3.646)
ax2.set_title('Weighted PCA 2D', fontsize=12, pad=8)
ax2.set_xlabel('Magnitude (mV)', fontsize=10, labelpad=2)
ax2.set_ylabel('Magnitude (mV)', fontsize=10)

for ax in [ax1, ax2]:
    ax.tick_params(labelsize=10, length=3.5, width=0.8, color='k', labelcolor='k')
    for s in ax.spines.values():
        s.set_color('k')
        s.set_linewidth(1.0)

plt.savefig('out.png', dpi=100)
